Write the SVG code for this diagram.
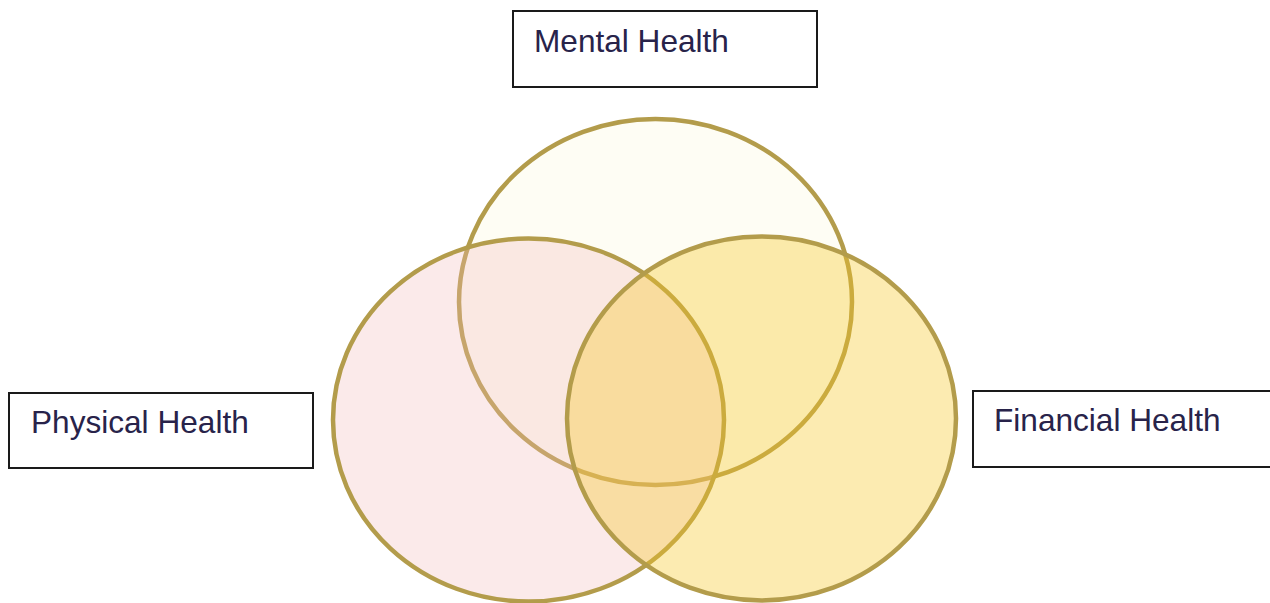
<svg xmlns="http://www.w3.org/2000/svg" width="1270" height="603" viewBox="0 0 1270 603">
<style>
.c{stroke:#B39C4B;stroke-width:4.5}
.box{fill:#FFFFFF;stroke:#1A1A1A;stroke-width:2}
.lbl{font-family:"Liberation Sans",Arial,sans-serif;font-size:31.6px;fill:#28234A}
</style>
<rect width="1270" height="603" fill="#FFFFFF"/>
<g id="circles">
<g id="mental-circle"><ellipse class="c" cx="655.5" cy="302" rx="196.5" ry="183" fill="#FEFDF4"/></g>
<g id="physical-circle"><ellipse class="c" cx="528.5" cy="420" rx="195.5" ry="181.5" fill="#F2BABA" fill-opacity="0.3"/></g>
<g id="financial-circle"><ellipse class="c" cx="761.5" cy="418.5" rx="194.5" ry="182" fill="#F8C826" fill-opacity="0.36"/></g>
</g>
<g id="connectors"></g>
<g id="mental">
<rect class="box" x="513" y="11" width="304" height="76"/>
<text class="lbl" x="534" y="52">Mental Health</text>
</g>
<g id="physical">
<rect class="box" x="9" y="393" width="304" height="75"/>
<text class="lbl" x="31" y="433">Physical Health</text>
</g>
<g id="financial">
<rect class="box" x="973" y="391" width="304" height="76"/>
<text class="lbl" x="994" y="431">Financial Health</text>
</g>
</svg>
